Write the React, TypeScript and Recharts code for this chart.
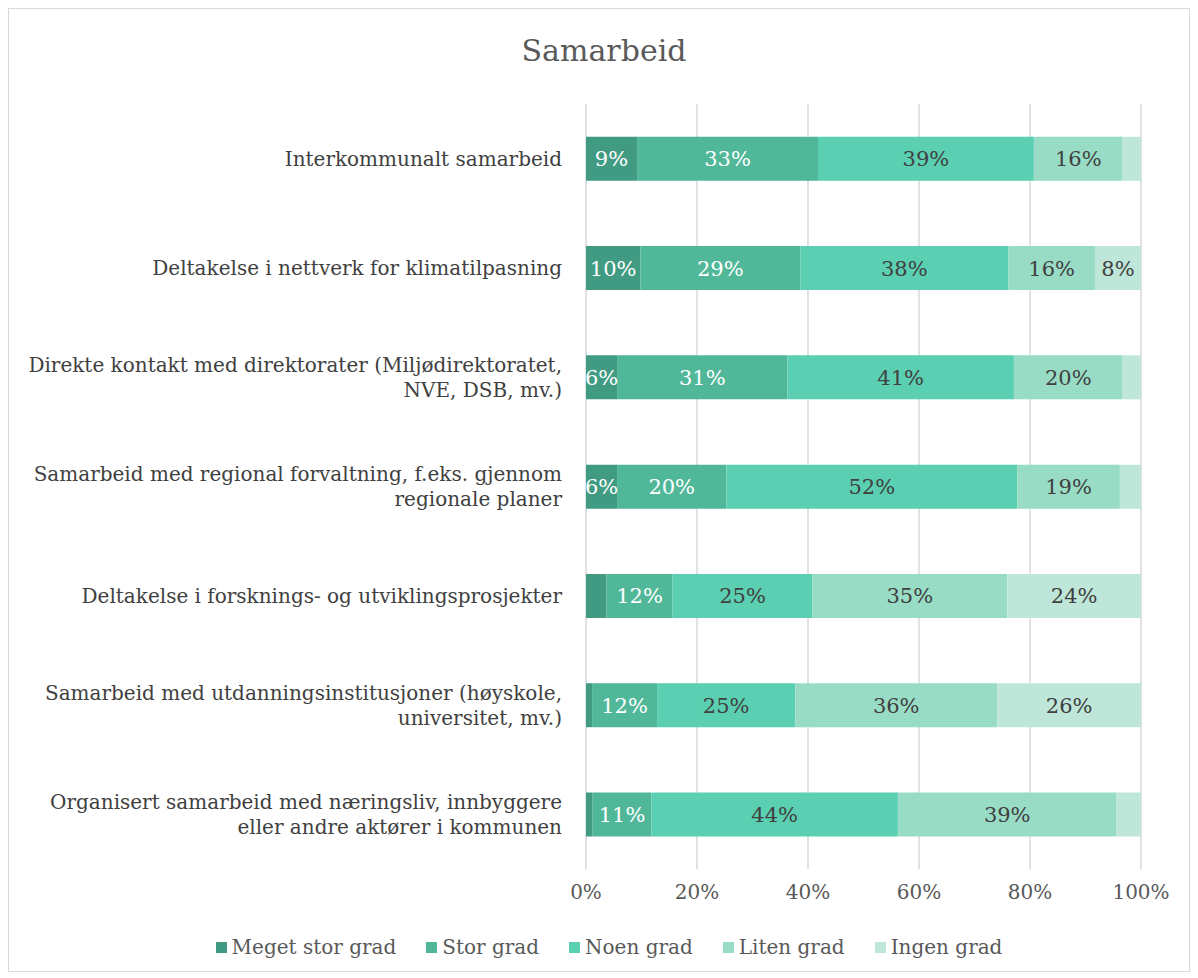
import React from "react";
import { BarChart, Bar, XAxis, YAxis, CartesianGrid, LabelList, Legend } from "recharts";

const categories = [
  "Interkommunalt samarbeid",
  "Deltakelse i nettverk for klimatilpasning",
  "Direkte kontakt med direktorater (Miljødirektoratet, NVE, DSB, mv.)",
  "Samarbeid med regional forvaltning, f.eks. gjennom regionale planer",
  "Deltakelse i forsknings- og utviklingsprosjekter",
  "Samarbeid med utdanningsinstitusjoner (høyskole, universitet, mv.)",
  "Organisert samarbeid med næringsliv, innbyggere eller andre aktører i kommunen",
];

const megetStor = [9.2, 9.8, 5.6, 5.6, 3.7, 1.1, 1.2];
const stor = [32.6, 28.8, 30.7, 19.7, 11.9, 11.7, 10.6];
const noen = [38.9, 37.5, 40.8, 52.4, 25.2, 24.9, 44.4];
const liten = [16.0, 15.6, 19.6, 18.5, 35.1, 36.4, 39.4];
const ingen = [3.3, 8.3, 3.3, 3.8, 24.1, 25.9, 4.4];

const seriesNames = ["Meget stor grad", "Stor grad", "Noen grad", "Liten grad", "Ingen grad"];
const xTicks = [0, 20, 40, 60, 80, 100];

const colors = ["#419B83", "#50B799", "#5BCFB1", "#99DCC6", "#BEE7D9"];
const labelColors = ["#ffffff", "#ffffff", "#404040", "#404040", "#404040"];
const FONT = "'DejaVu Serif', 'Liberation Serif', serif";

const data = categories.map((name, i) => ({
  name,
  s0: megetStor[i],
  s1: stor[i],
  s2: noen[i],
  s3: liten[i],
  s4: ingen[i],
}));

// simple word wrap for the long category names
const wrap = (text: string, max: number) => {
  const words = text.split(" ");
  const lines: string[] = [];
  let cur = "";
  words.forEach((w) => {
    const next = cur ? cur + " " + w : w;
    if (next.length > max && cur) {
      lines.push(cur);
      cur = w;
    } else {
      cur = next;
    }
  });
  if (cur) lines.push(cur);
  return lines;
};

const CategoryTick = (props: any) => {
  const { x, y, payload } = props;
  const lines = wrap(payload.value, 52);
  const lh = 25;
  const start = -((lines.length - 1) * lh) / 2;
  return (
    <text x={x} y={y} textAnchor="end" fill="#404040" fontSize={20} fontFamily={FONT}>
      {lines.map((l, i) => (
        <tspan key={i} x={x} y={y + start + i * lh} dy="0.35em">
          {l}
        </tspan>
      ))}
    </text>
  );
};

const LegendContent = () => (
  <div
    style={{
      display: "flex",
      justifyContent: "center",
      gap: 30,
      paddingTop: 24,
      paddingLeft: 68,
      fontFamily: FONT,
      fontSize: 20,
      color: "#595959",
    }}
  >
    {seriesNames.map((n, i) => (
      <span key={n} style={{ display: "flex", alignItems: "center" }}>
        <span style={{ width: 11, height: 11, background: colors[i], marginRight: 5, display: "inline-block" }} />
        {n}
      </span>
    ))}
  </div>
);

export default function App() {
  return (
    <div
      style={{
        position: "relative",
        width: 1180,
        height: 962,
        border: "1px solid #d9d9d9",
        background: "#fff",
      }}
    >
      <div
        style={{
          position: "absolute",
          top: 24,
          left: 0,
          width: 1190,
          textAlign: "center",
          fontFamily: FONT,
          fontSize: 30,
          color: "#595959",
        }}
      >
        Samarbeid
      </div>
      <BarChart
        width={1180}
        height={962}
        data={data}
        layout="vertical"
        margin={{ top: 95, right: 48, left: 0, bottom: 0 }}
        barCategoryGap="30%"
      >
        <CartesianGrid horizontal={false} stroke="#d9d9d9" strokeWidth={1.5} />
        <XAxis
          type="number"
          domain={[0, 100]}
          ticks={xTicks}
          tickFormatter={(v) => `${v}%`}
          axisLine={false}
          tickLine={false}
          tick={{ fill: "#595959", fontSize: 20, fontFamily: FONT }}
          height={42}
          dy={8}
        />
        <YAxis
          type="category"
          dataKey="name"
          width={577}
          axisLine={false}
          tickLine={false}
          tick={<CategoryTick />}
          tickMargin={18}
          interval={0}
        />
        <Legend verticalAlign="bottom" height={60} content={<LegendContent />} />
        {seriesNames.map((n, i) => (
          <Bar key={n} dataKey={`s${i}`} name={n} stackId="a" fill={colors[i]} isAnimationActive={false}>
            <LabelList
              dataKey={`s${i}`}
              position="center"
              fill={labelColors[i]}
              fontSize={21}
              fontFamily={FONT}
              formatter={(v: any) => (v >= 5 ? `${Math.round(v)}%` : "")}
            />
          </Bar>
        ))}
      </BarChart>
    </div>
  );
}
